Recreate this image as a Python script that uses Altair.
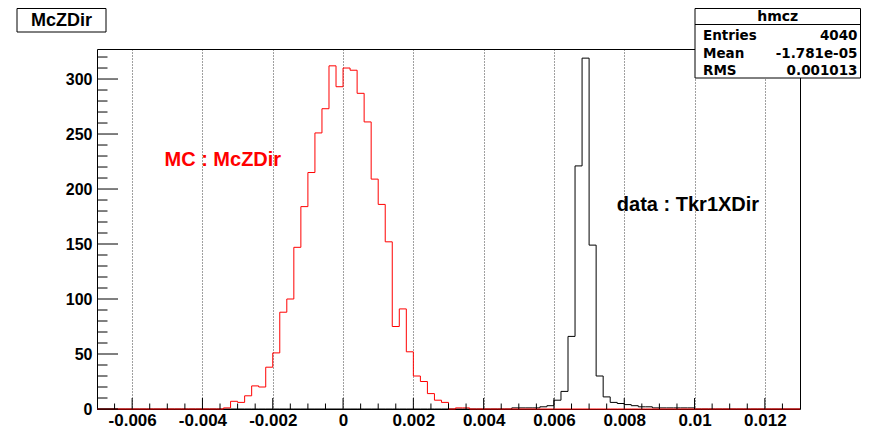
import altair as alt
import pandas as pd

# ---------------- data ----------------
X_MIN, X_MAX = -0.007, 0.013
BIN_W = 0.0002
N_BINS = 100
Y_MAX = 327.3

mc_first_edge = -0.0034
mc_counts = [1, 7, 6, 12, 21, 20, 38, 51, 88, 100,
             147, 184, 215, 251, 273, 312, 293, 310, 308, 287,
             261, 209, 186, 152, 75, 91, 52, 30, 25, 14,
             8, 6, 0, 1, 1]

data_first_edge = 0.0048
data_counts = [1, 1, 1, 1, 2, 3, 8, 16, 66, 221,
               319, 149, 30, 11, 6, 5, 4, 3, 2, 2,
               1, 1, 1, 1, 1, 1]

x_major = [-0.006, -0.004, -0.002, 0, 0.002, 0.004, 0.006, 0.008, 0.01, 0.012]
y_major = [0, 50, 100, 150, 200, 250, 300]

plot_title = "McZDir"
stats_name = "hmcz"
stat_labels = ["Entries", "Mean", "RMS"]
stat_values = ["4040", "-1.781e-05", "0.001013"]
mc_label = "MC : McZDir"
data_label = "data : Tkr1XDir"
mc_label_pos = [-0.00508, 226.0]
data_label_pos = [0.00779, 185.7]

# ---------------- layout ----------------
W, H = 703, 360
PAD = {"left": 89, "top": 41, "right": 62, "bottom": 20}
FONT = "Liberation Sans"


def full_hist(first_edge, counts):
    start = int(round((first_edge - X_MIN) / BIN_W))
    vals = [0] * N_BINS
    for i, c in enumerate(counts):
        vals[start + i] = c
    edges = [round(X_MIN + i * BIN_W, 6) for i in range(N_BINS + 1)]
    return pd.DataFrame({"x": edges, "y": vals + [vals[-1]]})


mc_df = full_hist(mc_first_edge, mc_counts)
data_df = full_hist(data_first_edge, data_counts)

major_set = {round(v, 6) for v in x_major}
x_minor = [round(X_MIN + i * 0.0005, 6) for i in range(1, 40)]
x_minor = [v for v in x_minor if v not in major_set]
y_minor = [v for v in range(10, 330, 10) if v % 50 != 0]

xs = alt.Scale(domain=[X_MIN, X_MAX], nice=False, zero=False)
ys = alt.Scale(domain=[0, Y_MAX], nice=False, zero=True)

x_axis = alt.Axis(values=x_major, grid=True, gridColor="#000000", gridDash=[1, 2],
                  gridWidth=1, gridOpacity=0.75, ticks=False, tickSize=0, domain=False,
                  labelExpr="'' + datum.value", labelFont=FONT, labelFontWeight="bold",
                  labelFontSize=17, labelColor="#000000", labelPadding=3,
                  labelFlush=False, labelOverlap=False, title=None)
y_axis = alt.Axis(values=y_major, grid=False, ticks=False, tickSize=0, domain=False,
                  labelFont=FONT, labelFontWeight="bold", labelFontSize=16,
                  labelColor="#000000", labelPadding=5, labelOverlap=False, title=None)


def X(field):
    return alt.X(field, scale=xs, axis=x_axis)


def Y(field):
    return alt.Y(field, scale=ys, axis=y_axis)


data_line = alt.Chart(data_df).mark_line(interpolate="step-after", color="#000000",
                                         strokeWidth=1).encode(x=X("x:Q"), y=Y("y:Q"))
mc_line = alt.Chart(mc_df).mark_line(interpolate="step-after", color="#ff0000",
                                     strokeWidth=1).encode(x=X("x:Q"), y=Y("y:Q"))


def x_ticks(vals, length):
    return alt.Chart(pd.DataFrame({"x": vals})).mark_rule(color="#000000", strokeWidth=1).encode(
        x=X("x:Q"), y=alt.value(H), y2=alt.value(H - length))


def y_ticks(vals, length):
    return alt.Chart(pd.DataFrame({"y": vals})).mark_rule(color="#000000", strokeWidth=1).encode(
        y=Y("y:Q"), x=alt.value(0), x2=alt.value(length))


ticks = [x_ticks(x_major, 11), x_ticks(x_minor, 5.5), y_ticks(y_major, 21), y_ticks(y_minor, 10.5)]

mc_text = alt.Chart(pd.DataFrame({"x": [mc_label_pos[0]], "y": [mc_label_pos[1]], "t": [mc_label]})).mark_text(
    align="left", baseline="middle", font=FONT, fontWeight="bold", fontSize=20, color="#ff0000"
).encode(x=X("x:Q"), y=Y("y:Q"), text="t:N")

data_text = alt.Chart(pd.DataFrame({"x": [data_label_pos[0]], "y": [data_label_pos[1]], "t": [data_label]})).mark_text(
    align="left", baseline="middle", font=FONT, fontWeight="bold", fontSize=20, color="#000000"
).encode(x=X("x:Q"), y=Y("y:Q"), text="t:N")


def box(x1, x2, y1, y2):
    return alt.Chart(pd.DataFrame({"k": [0]})).mark_rect(fill="#ffffff", stroke="#000000",
                                                          strokeWidth=1).encode(
        x=alt.value(x1), x2=alt.value(x2), y=alt.value(y1), y2=alt.value(y2))


def label(text, x, y, align, size, family=FONT):
    return alt.Chart(pd.DataFrame({"t": [text]})).mark_text(
        align=align, baseline="middle", font=family, fontWeight="bold", fontSize=size,
        color="#000000").encode(text="t:N", x=alt.value(x), y=alt.value(y))


# title box (top-left)
title_layers = [box(-80, 9, -40.5, -17), label(plot_title, -35.5, -28.5, "center", 18)]

# statistics box (top-right)
SB_L = 598
SB_R = W + PAD["right"] - 1.5
stats_layers = [
    box(SB_L, SB_R, -40.5, 29),
    alt.Chart(pd.DataFrame({"k": [0]})).mark_rule(color="#000000", strokeWidth=1).encode(
        x=alt.value(SB_L), x2=alt.value(SB_R), y=alt.value(-24.5)),
    label(stats_name, (SB_L + SB_R) / 2, -32.5, "center", 14, "DejaVu Sans"),
]
row_y = [-13.5, 5, 22]
for lab, val, yy in zip(stat_labels, stat_values, row_y):
    stats_layers.append(label(lab, 606, yy, "left", 13.5, "DejaVu Sans"))
    stats_layers.append(label(val, SB_R - 3, yy, "right", 13.5, "DejaVu Sans"))

chart = alt.layer(
    data_line, mc_line, *ticks, mc_text, data_text, *title_layers, *stats_layers
).properties(
    width=W, height=H,
    autosize=alt.AutoSizeParams(type="none"),
    padding=PAD,
    background="#ffffff",
).configure_view(stroke="#000000", strokeWidth=1)

chart.save("out.html", embed_options={"renderer": "svg", "actions": False})
